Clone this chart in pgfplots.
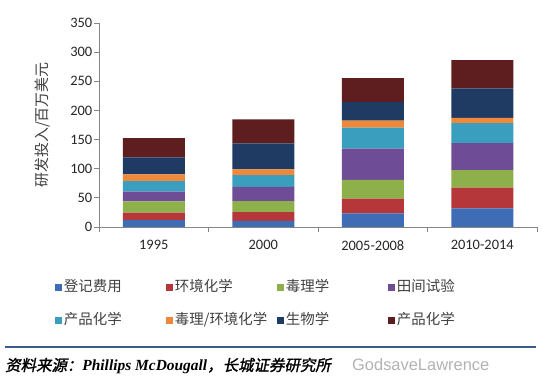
\documentclass[border=0pt]{standalone}
\usepackage{pgfplots}
\pgfplotsset{compat=1.18}
\usepackage{fontspec}
\setmainfont{Carlito}
\newfontfamily\cjk{Noto Sans CJK SC}
\newfontfamily\cjkit[FakeSlant=0.2,FakeBold=1.5]{Noto Sans CJK SC}
\newfontfamily\serifbi{Liberation Serif}
\newfontfamily\wm{Liberation Sans}
\definecolor{c1}{HTML}{3F6DB5}
\definecolor{c2}{HTML}{B5373A}
\definecolor{c3}{HTML}{8EB04A}
\definecolor{c4}{HTML}{6E4C96}
\definecolor{c5}{HTML}{3A9EBF}
\definecolor{c6}{HTML}{F0883A}
\definecolor{c7}{HTML}{1F3B64}
\definecolor{c8}{HTML}{5E1E20}
\definecolor{axisgray}{HTML}{868686}
\definecolor{footblue}{HTML}{3D5A8A}
\begin{document}
\begin{tikzpicture}
\path[use as bounding box] (0,0) rectangle (542bp,379bp);
\begin{axis}[
  at={(99bp,152bp)}, anchor=south west,
  scale only axis, width=438bp, height=204bp,
  ybar stacked, bar width=62bp,
  xmin=-0.5, xmax=3.5, ymin=0, ymax=350,
  xtick={-0.5,0.5,1.5,2.5,3.5},
  x tick label as interval,
  xticklabels={1995,2000,2005-2008,2010-2014},
  ytick={0,50,...,350},
  axis x line*=bottom, axis y line*=left,
  axis line style={draw=axisgray, line width=0.8bp},
  tick style={draw=axisgray, line width=0.8bp},
  tick align=outside, major tick length=5bp,
  /pgf/number format/assume math mode=true,
  ticklabel style={font=\fontsize{14.5}{14.5}\selectfont, text=black!85},
  yticklabel style={inner xsep=1.5bp},
  xticklabel style={yshift=-5bp},
  ylabel={\cjk 研发投入/百万美元},
  ylabel style={at={(axis description cs:-0.128,0.5)}, anchor=center, font=\fontsize{15}{15}\selectfont, text=black!75},
  legend columns=4,
  legend image code/.code={\path[#1] (0bp,-3.5bp) rectangle (7bp,3.5bp);},
  legend style={at={(axis description cs:-0.1005,-0.2525)}, anchor=north west,
    draw=none, fill=none, inner sep=0pt, outer sep=0pt, row sep=16bp,
    font=\cjk\fontsize{14.5}{14.5}\selectfont, text=black!75,
    nodes={text width=100bp, align=left, inner xsep=2bp, inner ysep=2bp, text height=11bp, text depth=2bp}},
  every axis plot/.append style={draw=none},
]
\addplot[fill=c1] coordinates {(0,12) (1,10.3) (2,23.4) (3,32)};
\addplot[fill=c2] coordinates {(0,12.6) (1,15.4) (2,25.2) (3,35.4)};
\addplot[fill=c3] coordinates {(0,19.4) (1,18.9) (2,32.4) (3,30.3)};
\addplot[fill=c4] coordinates {(0,16.6) (1,24.4) (2,53.3) (3,46.3)};
\addplot[fill=c5] coordinates {(0,18.3) (1,20) (2,36) (3,34.3)};
\addplot[fill=c6] coordinates {(0,11.4) (1,10) (2,12) (3,9.1)};
\addplot[fill=c7] coordinates {(0,29.1) (1,44.4) (2,32) (3,50.3)};
\addplot[fill=c8] coordinates {(0,33.2) (1,41.2) (2,41.1) (3,48.6)};
\legend{登记费用,环境化学,毒理学,田间试验,产品化学,毒理/环境化学,生物学,产品化学}
\end{axis}
\draw[footblue, line width=2.5bp] (5bp,32bp) -- (536bp,32bp);
\node[anchor=west, inner sep=0pt] at (5bp,13bp) {\cjkit\fontsize{15.5}{15.5}\selectfont 资料来源：{\serifbi\bfseries\itshape Phillips McDougall}，长城证券研究所};
\node[anchor=west, inner sep=0pt, text=black!30] at (352bp,14bp) {\wm\fontsize{16.5}{16.5}\selectfont GodsaveLawrence};
\end{tikzpicture}
\end{document}
